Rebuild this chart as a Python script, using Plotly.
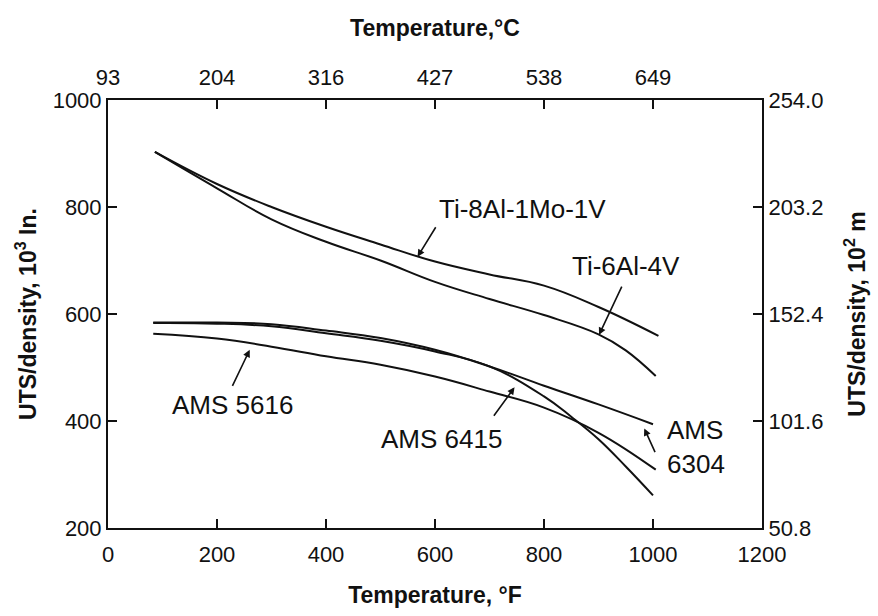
import plotly.graph_objects as go

# ---- data ----
temp_ti8 = [86, 200, 300, 400, 500, 600, 700, 800, 900, 1010]
uts_ti8 = [903, 843, 800, 763, 730, 698, 674, 653, 613, 559]

temp_ti6 = [86, 200, 300, 400, 500, 600, 700, 800, 900, 950, 1005]
uts_ti6 = [903, 835, 777, 735, 700, 660, 628, 598, 562, 532, 484]

temp_6304 = [83, 200, 300, 400, 500, 600, 700, 800, 900, 1000]
uts_6304 = [584, 584, 581, 569, 555, 533, 502, 466, 431, 394]

temp_6415 = [83, 200, 300, 400, 500, 600, 700, 800, 850, 900, 950, 1000]
uts_6415 = [583, 582, 577, 564, 550, 530, 502, 446, 408, 366, 315, 261]

temp_5616 = [83, 200, 300, 400, 500, 600, 700, 800, 900, 1005]
uts_5616 = [563, 554, 539, 521, 505, 483, 455, 425, 378, 309]

x_ticks_f = [0, 200, 400, 600, 800, 1000, 1200]
x_ticks_c_pos = [0, 200, 400, 600, 800, 1000]
x_ticks_c_lbl = ["93", "204", "316", "427", "538", "649"]
y_ticks_in = [200, 400, 600, 800, 1000]
y_ticks_m = [50.8, 101.6, 152.4, 203.2, 254.0]
y_ticks_m_lbl = ["50.8", "101.6", "152.4", "203.2", "254.0"]

FAM = "Liberation Sans, Arial, Helvetica, sans-serif"
TICKFONT = dict(family=FAM, size=22, color="#111")
TITLEFONT = dict(family=FAM, size=23, color="#111", weight="bold")
LBLFONT = dict(family=FAM, size=26, color="#111")

fig = go.Figure()
for xs, ys, nm in [(temp_ti8, uts_ti8, "Ti-8Al-1Mo-1V"), (temp_ti6, uts_ti6, "Ti-6Al-4V"),
                   (temp_6304, uts_6304, "AMS 6304"), (temp_6415, uts_6415, "AMS 6415"),
                   (temp_5616, uts_5616, "AMS 5616")]:
    fig.add_trace(go.Scatter(x=xs, y=ys, mode="lines", name=nm, showlegend=False,
                             line=dict(color="#111", width=2, shape="spline", smoothing=1.2)))

# invisible traces to activate secondary axes
fig.add_trace(go.Scatter(x=[0], y=[None], xaxis="x2", yaxis="y", showlegend=False, hoverinfo="skip"))
fig.add_trace(go.Scatter(x=[0], y=[None], xaxis="x", yaxis="y2", showlegend=False, hoverinfo="skip"))

axcommon = dict(showgrid=False, zeroline=False, showline=True, linecolor="#111", linewidth=2,
                ticks="inside", ticklen=9, tickwidth=2, tickcolor="#111", tickfont=TICKFONT)

fig.update_layout(
    width=878, height=616,
    margin=dict(l=108, r=115, t=100, b=84),
    paper_bgcolor="white", plot_bgcolor="white",
    xaxis=dict(range=[0, 1200], tickvals=x_ticks_f, ticktext=[str(v) for v in x_ticks_f],
               ticklabelstandoff=6,
               title=dict(text="Temperature, °F", font=TITLEFONT, standoff=20), **axcommon),
    xaxis2=dict(range=[0, 1200], overlaying="x", side="top", tickvals=x_ticks_c_pos,
                ticktext=x_ticks_c_lbl, ticklabelstandoff=4,
                title=dict(text="Temperature,°C", font=TITLEFONT, standoff=22), **axcommon),
    yaxis=dict(range=[200, 1000], tickvals=y_ticks_in, ticktext=[str(v) for v in y_ticks_in],
               title=dict(text="UTS/density, 10<sup>3</sup> In.", font=TITLEFONT, standoff=10),
               **axcommon),
    yaxis2=dict(range=[50.8, 254.0], overlaying="y", side="right", tickvals=y_ticks_m,
                ticktext=y_ticks_m_lbl,
                title=dict(text="UTS/density, 10<sup>2</sup> m", font=TITLEFONT, standoff=26),
                **axcommon),
)

# curve labels with arrows (data coordinates)
labels = [
    ("Ti-8Al-1Mo-1V", 760, 796, 603, 765, 568, 707),
    ("Ti-6Al-4V", 951, 689, 944, 654, 901, 561),
    ("AMS 5616", 229, 430, 227, 463, 260, 533),
    ("AMS 6415", 612, 367, 706, 407, 746, 463),
]
for txt, tx, ty, ax0, ay0, hx, hy in labels:
    fig.add_annotation(x=tx, y=ty, text=txt, showarrow=False, font=LBLFONT)
    fig.add_annotation(x=hx, y=hy, ax=ax0, ay=ay0, axref="x", ayref="y", text="",
                       showarrow=True, arrowhead=2, arrowsize=0.9, arrowwidth=1.6, arrowcolor="#111")
fig.add_annotation(x=1022, y=352, text="AMS<br>6304", showarrow=False, xanchor="left",
                   align="left", font=LBLFONT)
fig.add_annotation(x=984, y=386, ax=1005, ay=339, axref="x", ayref="y", text="",
                   showarrow=True, arrowhead=2, arrowsize=0.9, arrowwidth=1.6, arrowcolor="#111")

fig.write_html("out.html")
